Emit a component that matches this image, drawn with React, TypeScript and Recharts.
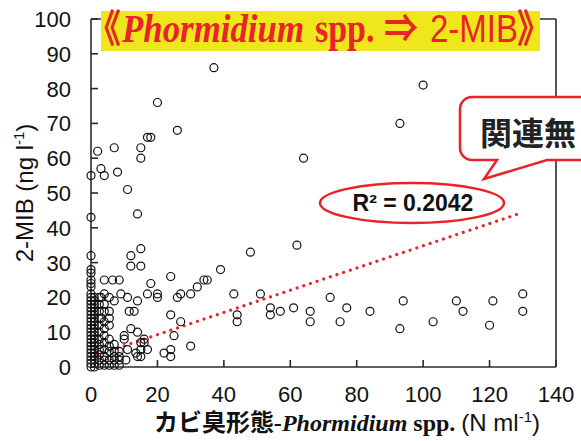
import { ScatterChart, Scatter, XAxis, YAxis, ReferenceLine } from 'recharts'

// Phormidium spp. cell count (N/ml) vs 2-MIB (ng/l)
const xTicks = [0, 20, 40, 60, 80, 100, 120, 140]
const yTicks = [0, 10, 20, 30, 40, 50, 60, 70, 80, 90, 100]

const nearZero: [number, number][] = [
  [0, 0], [0, 1], [0, 2], [0, 3], [0, 4], [0, 5], [0, 6], [0, 7], [0, 8], [0, 9], [0, 10],
  [0, 11], [0, 12], [0, 13], [0, 14], [0, 15], [0, 16], [0, 17], [0, 18], [0, 19], [0, 20],
  [0, 21], [0, 23], [0, 24], [0, 25], [0, 27], [0, 28], [0, 32], [0, 43], [0, 55],
  [1, 0], [1, 1], [1, 2], [1, 3], [1, 4], [1, 5], [1, 6], [1, 7], [1, 8], [1, 9], [1, 10],
  [1, 11], [1, 12], [1, 13], [1, 14], [1, 15], [1, 16], [1, 17], [1, 18], [1, 19], [1, 20],
  [2.5, 0.5], [2.5, 2], [2.5, 3.5], [2.5, 5], [2.5, 6.5], [2.5, 8], [2.5, 10], [2.5, 12],
  [2.5, 14], [2.5, 16], [2.5, 18], [2.5, 20], [2, 62],
  [3, 14], [3, 20], [3, 57],
  [4, 0.5], [4, 2], [4, 3], [4, 5], [4, 7], [4, 9], [4, 11], [4, 13], [4, 16], [4, 18],
  [4, 21], [4, 25], [4, 55],
  [5.5, 0.5], [5.5, 2], [5.5, 4.5], [5.5, 6], [5.5, 8], [5.5, 12], [5.5, 14], [5.5, 16], [5.5, 20],
  [7, 0.5], [7, 2], [7, 3], [7, 4.5], [7, 6.5], [7, 19], [6.5, 25], [7, 63],
  [8.5, 0.5], [8.5, 2], [8.5, 3], [8.5, 4.5], [8.5, 25], [8, 56], [9, 21],
]

const lowRange: [number, number][] = [
  [10, 9], [10, 8], [10.5, 2], [11, 5], [11, 20], [11, 51], [12, 32], [12, 29], [11.5, 16],
  [12, 11], [13, 16], [13.5, 4], [14, 19], [14, 10], [14, 3], [14, 44], [15, 3], [15, 5],
  [15, 7], [16, 7], [16, 8], [17, 5], [15, 34], [15, 29], [15, 60], [15, 63], [17, 21],
  [17, 66], [18, 66], [18, 24], [20, 21], [20, 20], [20, 76], [22, 4], [24, 26], [24, 15],
  [24, 5], [24, 3], [25, 9], [26, 20], [26, 68], [27, 21], [27, 13], [30, 21], [30, 6],
]

const midRange: [number, number][] = [
  [32, 23], [34, 25], [35, 25], [37, 86], [39, 28], [43, 21], [44, 15], [44, 13], [48, 33],
  [51, 21], [54, 17], [54, 15], [57, 16], [61, 17], [62, 35], [64, 60], [66, 16], [66, 13],
]

const highRange: [number, number][] = [
  [72, 20], [75, 13], [77, 17], [84, 16], [93, 11], [93, 70], [94, 19], [100, 81], [103, 13],
  [110, 19], [112, 16], [120, 12], [121, 19], [130, 21], [130, 16],
]

// linear fit, R² = 0.2042
const trendX = [0, 130]
const trendY = [2.9, 44.4]

const points = [...nearZero, ...lowRange, ...midRange, ...highRange].map(([x, y]) => ({ x, y }))

const AXIS = '#2b2b2b'
const RED = '#e8232a'
const SANS = '"Liberation Sans", Arial, sans-serif'
const SERIF = '"Liberation Serif", "Times New Roman", serif'
const CJK = '"Noto Sans CJK JP", sans-serif'

function Ring(props: any) {
  return <circle cx={props.cx} cy={props.cy} r={4} fill="none" stroke="#111" strokeWidth={1.2} />
}

function XTick({ x, y, payload }: any) {
  return (
    <g>
      <line x1={x} x2={x} y1={y - 19} y2={y - 26} stroke={AXIS} strokeWidth={1.6} />
      <text x={x} y={y} dy="0.71em" textAnchor="middle" fontFamily={SANS} fontSize={22} fill="#111">
        {payload.value}
      </text>
    </g>
  )
}

function YTick({ x, y, payload }: any) {
  return (
    <g>
      <line x1={x + 20} x2={x + 27} y1={y} y2={y} stroke={AXIS} strokeWidth={1.6} />
      <text x={x} y={y} dy="0.36em" textAnchor="end" fontFamily={SANS} fontSize={22} fill="#111">
        {payload.value}
      </text>
    </g>
  )
}

export default function App() {
  return (
    <div style={{ position: 'absolute', left: 0, top: 0, width: 581, height: 441, background: '#fff' }}>
      <ScatterChart width={581} height={441} margin={{ top: 19, right: 25, bottom: 34, left: 0 }}>
        <XAxis
          type="number"
          dataKey="x"
          domain={[0, 140]}
          ticks={xTicks}
          interval={0}
          height={40}
          tickSize={0}
          tickMargin={19}
          tick={(p: any) => <XTick {...p} />}
          stroke={AXIS}
          strokeWidth={1.6}
        />
        <YAxis
          type="number"
          dataKey="y"
          domain={[0, 100]}
          ticks={yTicks}
          interval={0}
          width={91}
          tickSize={0}
          tickMargin={20}
          tick={(p: any) => <YTick {...p} />}
          stroke={AXIS}
          strokeWidth={1.6}
        />
        <ReferenceLine y={100} stroke={AXIS} strokeWidth={1.6} />
        <ReferenceLine x={140} stroke={AXIS} strokeWidth={1.6} />
        <Scatter data={points} shape={Ring} isAnimationActive={false} />
        <ReferenceLine
          segment={[
            { x: trendX[0], y: trendY[0] },
            { x: trendX[1], y: trendY[1] },
          ]}
          stroke={RED}
          strokeWidth={3.2}
          strokeDasharray="0.01 7"
          strokeLinecap="round"
        />
      </ScatterChart>

      <svg
        width={581}
        height={441}
        style={{ position: 'absolute', left: 0, top: 0, pointerEvents: 'none' }}
      >
        {/* title */}
        <rect x={101} y={11} width={439} height={40} fill="#efe71b" />
        <g transform="translate(0 42) scale(1 1.15)" fill={RED} fontWeight="bold">
          <text x={87} fontFamily={CJK} fontSize={34}>《</text>
          <text
            x={122}
            fontFamily={SERIF}
            fontStyle="italic"
            fontSize={35}
            textLength={182}
            lengthAdjust="spacingAndGlyphs"
          >
            Phormidium
          </text>
          <text x={315} fontFamily={SERIF} fontSize={34}>spp.</text>
          <text x={384} fontFamily={CJK} fontSize={34}>⇒</text>
          <text x={430} fontFamily={SANS} fontWeight="normal" fontSize={33}>2-MIB</text>
          <text x={517} fontFamily={CJK} fontSize={34}>》</text>
        </g>

        {/* callout */}
        <path
          d="M 472 97 H 640 V 160 H 547 L 484 179 L 497 160 H 472 A 12 12 0 0 1 460 148 V 109 A 12 12 0 0 1 472 97 Z"
          fill="#fff"
          stroke={RED}
          strokeWidth={2.5}
        />
        <text x={480} y={145} fontFamily={CJK} fontWeight="bold" fontSize={32} fill="#222">
          関連無
        </text>

        {/* R² badge */}
        <ellipse cx={412} cy={203} rx={92} ry={20} fill="#fff" stroke={RED} strokeWidth={2.5} />
        <text x={413} y={211} textAnchor="middle" fontFamily={SANS} fontWeight="bold" fontSize={23} fill="#111">
          R² = 0.2042
        </text>

        {/* axis titles */}
        <text transform="translate(33 193) rotate(-90)" textAnchor="middle" fontFamily={SANS} fontSize={24} fill="#111">
          2-MIB (ng l<tspan fontSize={15} dy={-9}>-1</tspan>
          <tspan dy={9}>)</tspan>
        </text>
        <text x={347} y={431} textAnchor="middle" fontSize={24} fill="#111">
          <tspan fontFamily={CJK} fontWeight="bold">カビ臭形態</tspan>
          <tspan fontFamily={SERIF} fontWeight="bold" fontStyle="italic">-Phormidium</tspan>
          <tspan fontFamily={SERIF} fontWeight="bold"> spp. </tspan>
          <tspan fontFamily={SANS}>(N ml</tspan>
          <tspan fontFamily={SANS} fontSize={15} dy={-9}>-1</tspan>
          <tspan fontFamily={SANS} dy={9}>)</tspan>
        </text>
      </svg>
    </div>
  )
}
